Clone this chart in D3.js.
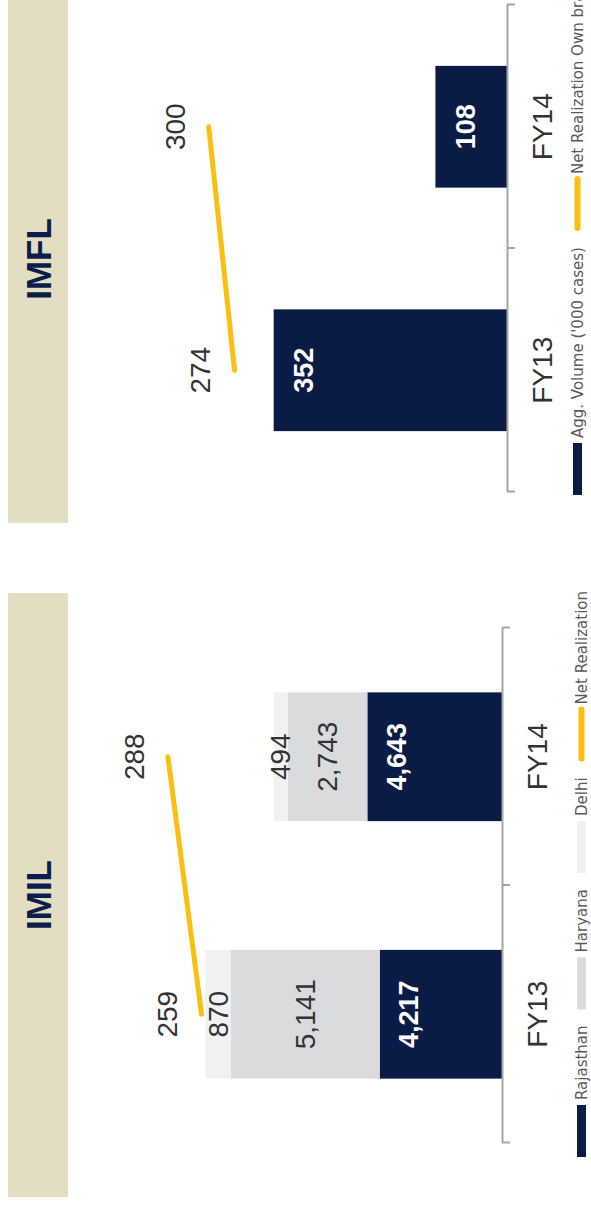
<!DOCTYPE html>
<html>
<head>
<meta charset="utf-8">
<script src="https://cdn.jsdelivr.net/npm/d3@7"></script>
<style>
  body { margin: 0; background: #fff; }
</style>
</head>
<body>
<script>
// ---- data ----
const years = ["FY13", "FY14"];
// IMIL volumes by state ('000 cases)
const rajasthan = [4217, 4643];
const haryana = [5141, 2743];
const delhi = [870, 494];
const imilRealization = [259, 288];
// IMFL
const imflVolume = [352, 108];
const imflRealization = [274, 300];

const imilLegend = ["Rajasthan", "Haryana", "Delhi", "Net Realization"];
const imflLegend = ["Agg. Volume ('000 cases)", "Net Realization Own brands"];

// ---- colours ----
const navy = "#0a1b45";
const haryanaGray = "#dadbdd";
const delhiGray = "#f0f1f3";
const gold = "#fbbf0f";
const beige = "#e3dec1";
const axisGray = "#a2a6ad";
const textDark = "#333";
const legendGray = "#595959";

const narrow = "'Liberation Sans Narrow', 'Liberation Sans', sans-serif";
const boldFont = "'Liberation Sans', Arial, sans-serif";
const legendFont = "'DejaVu Sans', sans-serif";

// the chart is drawn landscape (1207 x 591) and turned a quarter left
const W = 1207;
const svg = d3.select("body").append("svg")
   .attr("width", 591)
   .attr("height", 1207);
const g = svg.append("g")
   .attr("transform", `translate(0,${W}) rotate(-90)`);

const fmt = d3.format(",");

// header band with title
function header(x0, x1, titleX, title) {
   g.append("rect")
      .attr("x", x0).attr("y", 8)
      .attr("width", x1 - x0).attr("height", 60)
      .attr("fill", beige);
   g.append("text")
      .attr("x", titleX).attr("y", 38)
      .attr("dy", "0.36em")
      .attr("text-anchor", "middle")
      .attr("font-family", boldFont)
      .attr("font-weight", "bold")
      .attr("font-size", "35px")
      .attr("fill", "#0b1d4a")
      .text(title);
}

// category axis: ticks on the band edges, labels under the bars
function categoryAxis(x, baseY, labelY) {
   const edges = d3.scaleLinear().domain([0, years.length]).range(x.range());
   const ax = g.append("g")
      .attr("transform", `translate(0,${baseY})`)
      .call(d3.axisBottom(edges)
         .tickValues(d3.range(years.length + 1))
         .tickFormat("")
         .tickSize(8)
         .tickSizeOuter(0));
   ax.selectAll("path, line").attr("stroke", axisGray).attr("stroke-width", 2);

   const lab = g.append("g")
      .attr("transform", `translate(0,${baseY})`)
      .call(d3.axisBottom(x).tickSize(0));
   lab.select(".domain").remove();
   lab.selectAll("text")
      .attr("y", labelY)
      .attr("dy", "0.35em")
      .attr("font-family", narrow)
      .attr("font-size", "28px")
      .attr("fill", textDark);
}

// net realization line with value labels above the points
function realizationLine(x, y2, values) {
   const pts = years.map((yr, i) => [x(yr) + x.bandwidth() / 2, y2(values[i]), values[i]]);
   g.append("path")
      .attr("d", d3.line()(pts.map(p => [p[0], p[1]])))
      .attr("fill", "none")
      .attr("stroke", gold)
      .attr("stroke-width", 5)
      .attr("stroke-linecap", "round");
   g.selectAll(null)
      .data(pts)
      .enter().append("text")
      .attr("x", d => d[0])
      .attr("y", d => d[1] - 34)
      .attr("dy", "0.35em")
      .attr("text-anchor", "middle")
      .attr("font-family", narrow)
      .attr("font-size", "28px")
      .attr("fill", textDark)
      .text(d => fmt(d[2]));
}

// legend row: swatches (rect or line) followed by text
function legend(startX, cy, items) {
   let cx = startX;
   items.forEach(it => {
      if (it.type === "line") {
         g.append("line")
            .attr("x1", cx + 3).attr("x2", cx + 52)
            .attr("y1", cy).attr("y2", cy)
            .attr("stroke", it.color)
            .attr("stroke-width", 6)
            .attr("stroke-linecap", "round");
      } else {
         g.append("rect")
            .attr("x", cx).attr("y", cy - 4.5)
            .attr("width", 52).attr("height", 9)
            .attr("fill", it.color);
      }
      const t = g.append("text")
         .attr("x", cx + 57).attr("y", cy)
         .attr("dy", "0.35em")
         .attr("font-family", legendFont)
         .attr("font-size", "15px")
         .attr("fill", legendGray)
         .text(it.label);
      cx += 57 + t.node().getComputedTextLength() + 16;
   });
}

// ================= IMIL =================
header(10, 614, 312, "IMIL");

const xImil = d3.scaleBand()
   .domain(years)
   .range([64, 579])
   .paddingInner(0.5)
   .paddingOuter(0.25);
const yImil = d3.scaleLinear().domain([0, 12000]).range([502, 154]);
const y2Imil = d3.scaleLinear().domain([0, 300]).range([502, 154]);

const imilRows = years.map((yr, i) => ({
   year: yr, rajasthan: rajasthan[i], haryana: haryana[i], delhi: delhi[i]
}));
const keys = ["rajasthan", "haryana", "delhi"];
const fills = { rajasthan: navy, haryana: haryanaGray, delhi: delhiGray };
const series = d3.stack().keys(keys)(imilRows);

series.forEach(s => {
   g.selectAll(null)
      .data(s)
      .enter().append("rect")
      .attr("x", d => xImil(d.data.year))
      .attr("y", d => yImil(d[1]))
      .attr("width", xImil.bandwidth())
      .attr("height", d => yImil(d[0]) - yImil(d[1]))
      .attr("fill", fills[s.key]);

   const inside = s.key === "rajasthan";
   g.selectAll(null)
      .data(s)
      .enter().append("text")
      .attr("x", d => xImil(d.data.year) + xImil.bandwidth() / 2)
      .attr("y", d => inside ? yImil(d[1]) + 29 : (yImil(d[0]) + yImil(d[1])) / 2)
      .attr("dy", "0.35em")
      .attr("text-anchor", "middle")
      .attr("font-family", inside ? boldFont : narrow)
      .attr("font-weight", inside ? "bold" : "normal")
      .attr("font-size", inside ? "27px" : "28px")
      .attr("fill", inside ? "#fff" : textDark)
      .text(d => fmt(d.data[s.key]));
});

categoryAxis(xImil, 502, 35);
realizationLine(xImil, y2Imil, imilRealization);

legend(50, 581.5, [
   { label: imilLegend[0], color: navy },
   { label: imilLegend[1], color: haryanaGray },
   { label: imilLegend[2], color: delhiGray },
   { label: imilLegend[3], color: gold, type: "line" }
]);

// ================= IMFL =================
header(684, 1220, 948, "IMFL");

const xImfl = d3.scaleBand()
   .domain(years)
   .range([715, 1202])
   .paddingInner(0.5)
   .paddingOuter(0.25);
const yImfl = d3.scaleLinear().domain([0, 525]).range([507, 159]);
const y2Imfl = d3.scaleLinear().domain([0, 350]).range([507, 159]);

g.selectAll(null)
   .data(imflVolume)
   .enter().append("rect")
   .attr("x", (d, i) => xImfl(years[i]))
   .attr("y", d => yImfl(d))
   .attr("width", xImfl.bandwidth())
   .attr("height", d => yImfl(0) - yImfl(d))
   .attr("fill", navy);

g.selectAll(null)
   .data(imflVolume)
   .enter().append("text")
   .attr("x", (d, i) => xImfl(years[i]) + xImfl.bandwidth() / 2)
   .attr("y", d => yImfl(d) + 30)
   .attr("dy", "0.35em")
   .attr("text-anchor", "middle")
   .attr("font-family", boldFont)
   .attr("font-weight", "bold")
   .attr("font-size", "27px")
   .attr("fill", "#fff")
   .text(d => fmt(d));

categoryAxis(xImfl, 507, 35);
realizationLine(xImfl, y2Imfl, imflRealization);

legend(712, 577.5, [
   { label: imflLegend[0], color: navy },
   { label: imflLegend[1], color: gold, type: "line" }
]);
</script>
</body>
</html>
